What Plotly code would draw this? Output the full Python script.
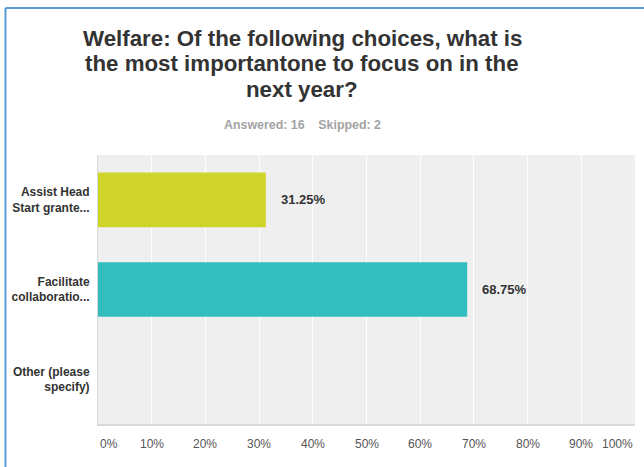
import plotly.graph_objects as go

# Survey responses
categories = ["Assist Head<br>Start grante...", "Facilitate<br>collaboratio...", "Other (please<br>specify)"]
percentages = [31.25, 68.75, 0.0]
bar_colors = ["#cfd42a", "#33bdbd", "#999999"]
tick_values = [0, 10, 20, 30, 40, 50, 60, 70, 80, 90, 100]
tick_labels = [f"{v}%" for v in tick_values]

title_lines = [
    "Welfare: Of the following choices, what is",
    "the most importantone to focus on in the",
    "next year?",
]
subtitle_text = "Answered: 16\u00a0\u00a0\u00a0\u00a0Skipped: 2"

W, H = 644, 467
L, R, T, B = 98, 9, 155, 43
FONT = "Liberation Sans, Arial, sans-serif"
pw = W - L - R
ph = H - T - B


def px_x(px):
    return (px - L) / pw


def px_y(py):
    return (H - B - py) / ph


fig = go.Figure()
fig.add_trace(go.Bar(
    x=percentages,
    y=[f"<b>{c}</b>" for c in categories],
    orientation="h",
    width=0.61,
    marker=dict(color=bar_colors, line=dict(width=0)),
    hoverinfo="skip",
))

annotations = []
# value labels beside the bars
for c, v in zip(categories, percentages):
    if v > 0:
        annotations.append(dict(
            x=v, y=f"<b>{c}</b>", xref="x", yref="y",
            text=f"<b>{v:.2f}%</b>", showarrow=False,
            xanchor="left", xshift=13,
            font=dict(family=FONT, size=13, color="#333333"),
        ))

# percentage axis labels (end labels kept inside the plot width)
for v, t in zip(tick_values, tick_labels):
    anchor = "left" if v == tick_values[0] else ("right" if v == tick_values[-1] else "center")
    annotations.append(dict(
        x=v, y=0, xref="x", yref="paper",
        text=t, showarrow=False, xanchor=anchor, yanchor="middle", yshift=-20,
        font=dict(family=FONT, size=12, color="#555555"),
    ))

# question title, one line at a time with tight leading
for line, cy in zip(title_lines, [38, 63.5, 89]):
    annotations.append(dict(
        x=px_x(302), y=px_y(cy), xref="paper", yref="paper",
        text=f"<b>{line}</b>", showarrow=False,
        xanchor="center", yanchor="middle",
        font=dict(family=FONT, size=22.3, color="#333333"),
    ))

# response counts under the title
annotations.append(dict(
    x=px_x(302), y=px_y(125), xref="paper", yref="paper",
    text=f"<b>{subtitle_text}</b>", showarrow=False,
    xanchor="center", yanchor="middle",
    font=dict(family=FONT, size=12.4, color="#a3a3a3"),
))

shapes = [
    # frame lines along the top and left edges
    dict(type="line", xref="paper", yref="paper",
         x0=px_x(5.5), x1=px_x(W + 5), y0=px_y(8), y1=px_y(8),
         line=dict(color="#5b9bd5", width=2)),
    dict(type="line", xref="paper", yref="paper",
         x0=px_x(5.5), x1=px_x(5.5), y0=px_y(8), y1=px_y(H + 5),
         line=dict(color="#5b9bd5", width=2)),
]

fig.update_layout(
    template="none",
    width=W, height=H,
    margin=dict(l=L, r=R, t=T, b=B, pad=0),
    paper_bgcolor="white",
    plot_bgcolor="#efefef",
    showlegend=False,
    font=dict(family=FONT, color="#333333"),
    xaxis=dict(
        range=[0, 100], tickvals=tick_values, showticklabels=False,
        showgrid=True, gridcolor="#ffffff", gridwidth=1,
        zeroline=False, showline=True, linecolor="#d9d9d9", linewidth=2,
        ticks="", fixedrange=True,
    ),
    yaxis=dict(
        autorange="reversed", showgrid=False, zeroline=False,
        showline=True, linecolor="#d9d9d9", linewidth=1,
        ticks="", ticklabelstandoff=5,
        tickfont=dict(family=FONT, size=12, color="#333333"),
    ),
    annotations=annotations,
    shapes=shapes,
)

fig.write_html("out.html")
